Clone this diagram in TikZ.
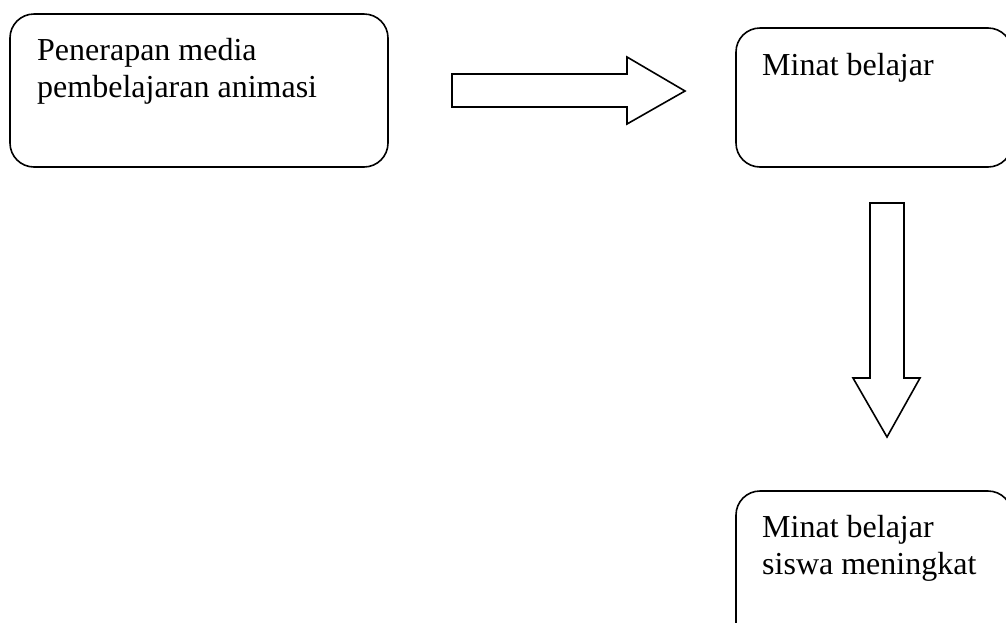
\documentclass[tikz,border=0pt]{standalone}
\usepackage{fontspec}
\setmainfont{Liberation Serif}
\begin{document}
\begin{tikzpicture}[x=1pt,y=-1pt,
  box/.style={draw=black,line width=1.6pt,rounded corners=24pt},
  blockarrow/.style={draw=black,line width=1.6pt,fill=white,line join=miter},
  lbl/.style={anchor=base west,inner sep=0pt,align=left,font=\fontsize{32}{37}\selectfont}]
\useasboundingbox (0,0) rectangle (1006,622);
\clip (0,0) rectangle (1006,622);
% boxes
\draw[box] (10,14) rectangle (388,167);
\node[lbl] (t1) at (37,97) {Penerapan media\\pembelajaran animasi};
\draw[box] (736,28) rectangle (1012,167);
\node[lbl] (t2) at (762,75) {Minat belajar};
\draw[box] (736,491) rectangle (1012,660);
\node[lbl] (t3) at (762,574) {Minat belajar\\siswa meningkat};
% right block arrow
\draw[blockarrow] (452,74) -- (627,74) -- (627,57) -- (685,91) -- (627,124) -- (627,107) -- (452,107) -- cycle;
% down block arrow
\draw[blockarrow] (870,203) -- (904,203) -- (904,378) -- (920,378) -- (887,437) -- (853,378) -- (870,378) -- cycle;
\end{tikzpicture}
\end{document}
